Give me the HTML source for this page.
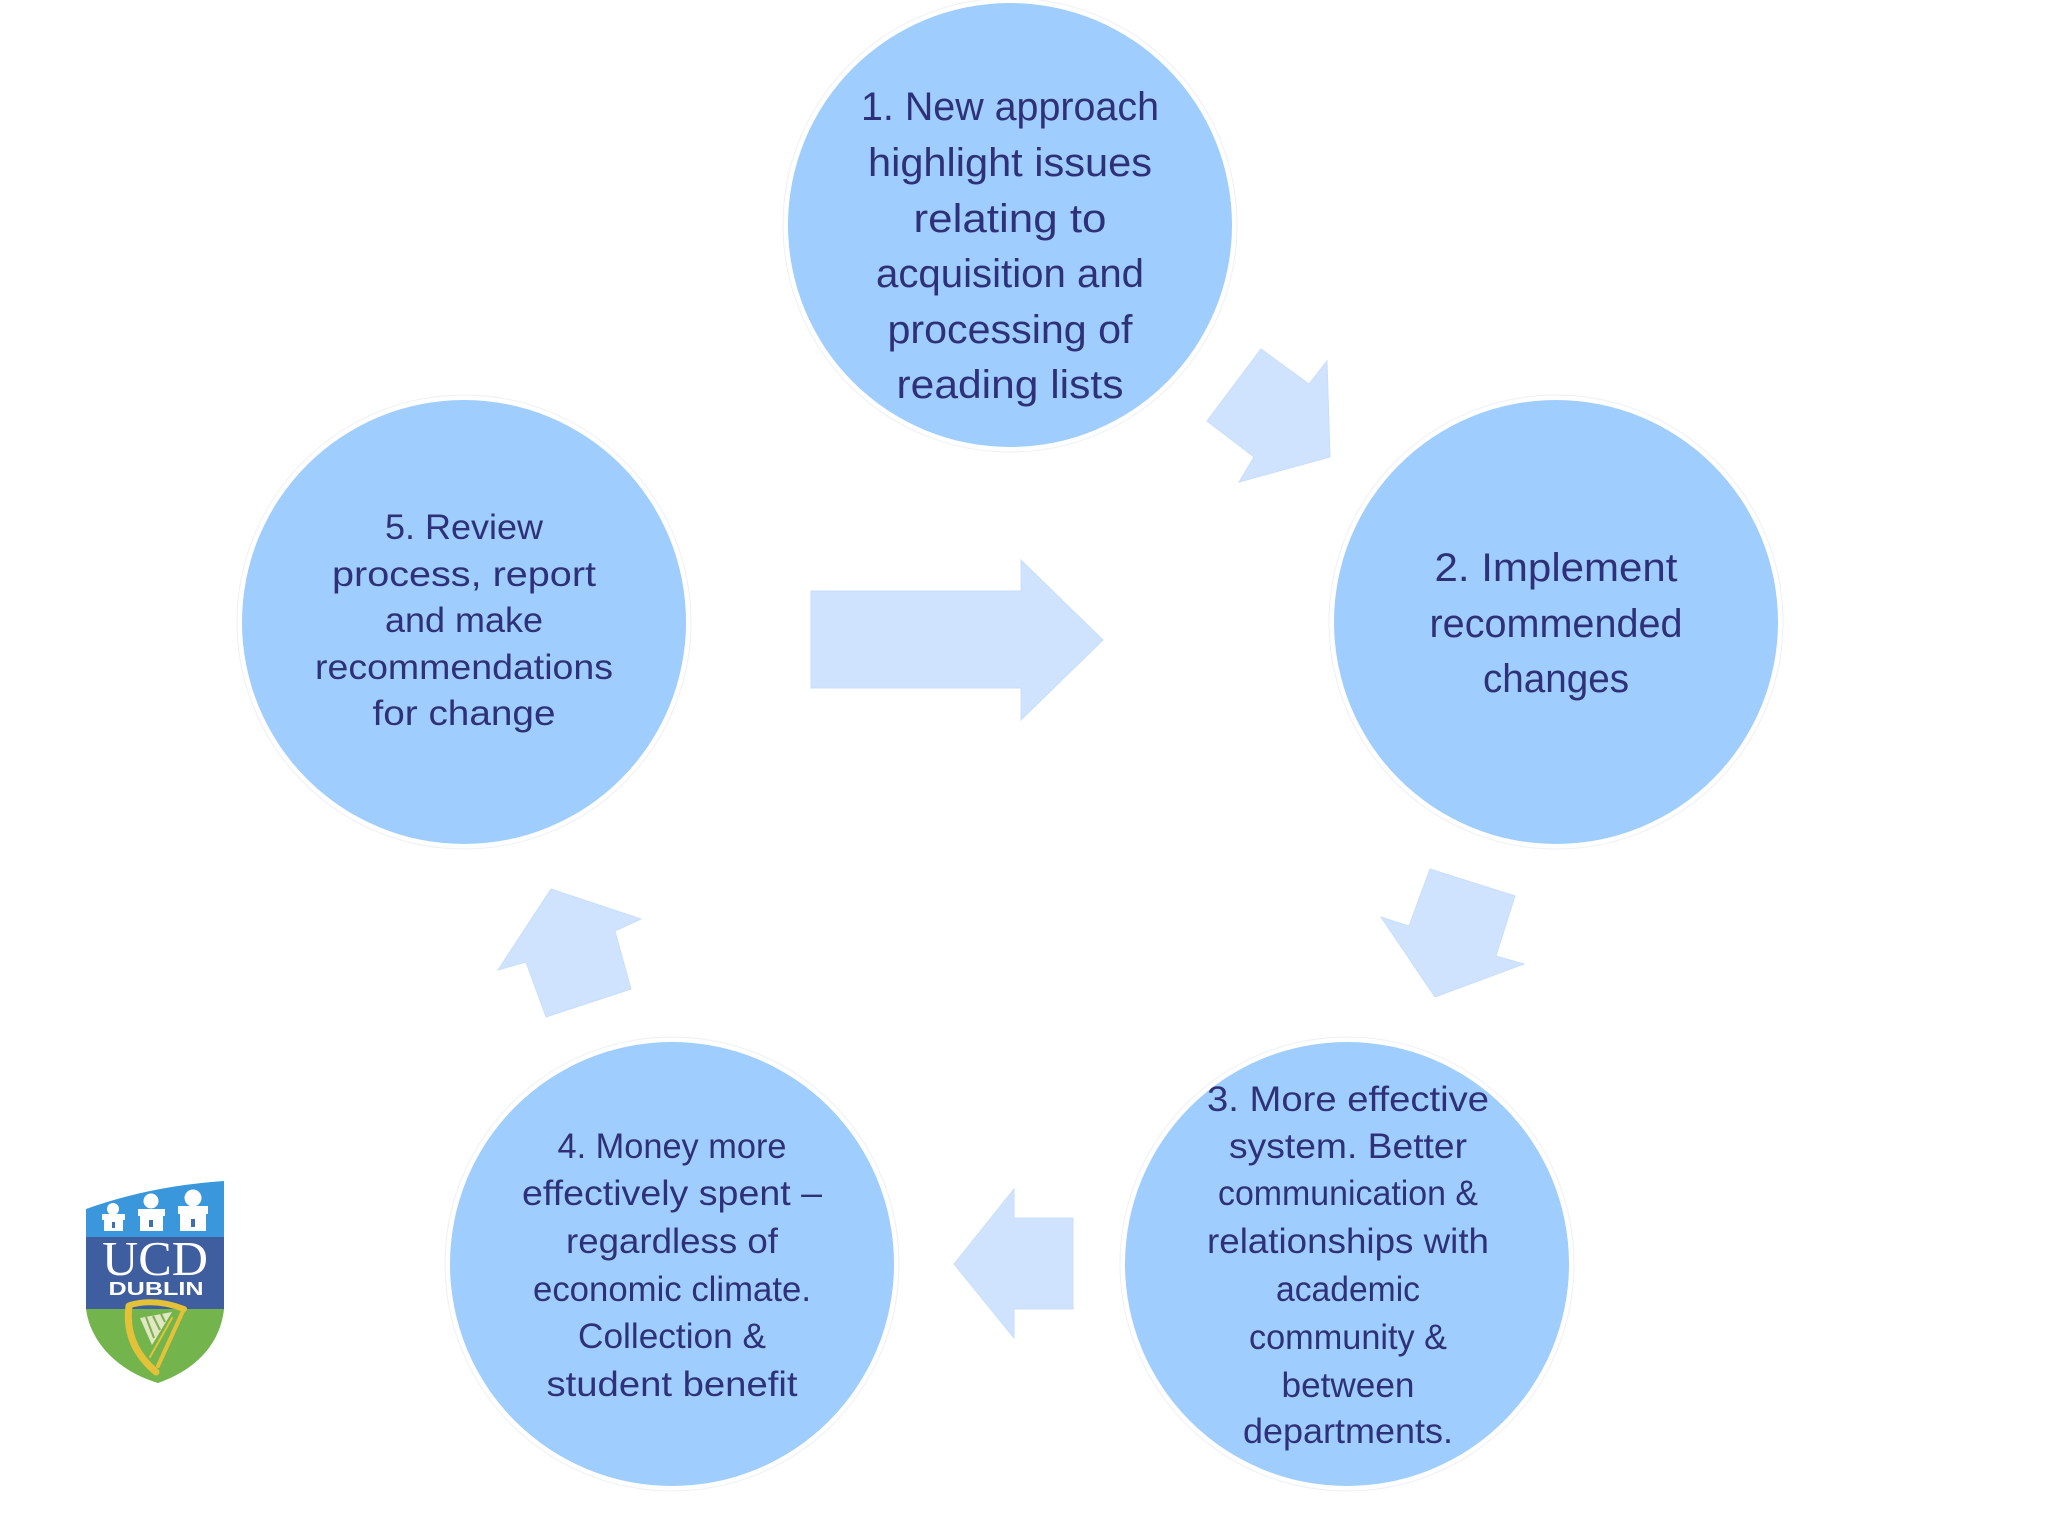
<!DOCTYPE html>
<html><head><meta charset="utf-8"><style>
html,body{margin:0;padding:0;background:#fff;width:2048px;height:1536px;overflow:hidden}
svg{display:block}
.a{font-family:"Liberation Sans",sans-serif;fill:#2f3178;text-anchor:middle;font-size:40px}
.b{font-size:35px}
</style></head><body>
<svg width="2048" height="1536" viewBox="0 0 2048 1536" xmlns="http://www.w3.org/2000/svg">
<rect width="2048" height="1536" fill="#fff"/>
<g fill="#9fcdfd" stroke="none">
<circle cx="1010" cy="225" r="222"/><circle cx="1556" cy="622" r="222"/><circle cx="1347" cy="1264" r="222"/><circle cx="672" cy="1264" r="222"/><circle cx="464" cy="622" r="222"/>
</g>
<g fill="none" stroke="#eef0f3" stroke-width="1">
<circle cx="1010" cy="225" r="227"/><circle cx="1556" cy="622" r="227"/><circle cx="1347" cy="1264" r="227"/><circle cx="672" cy="1264" r="227"/><circle cx="464" cy="622" r="227"/>
</g>
<g fill="#cfe3fe" stroke="#c8defa" stroke-width="1">
<polygon points="1261,349 1309,384 1327,361 1330,457 1239,482 1254,457 1207,421"/>
<polygon points="1430,869 1515,896 1496,956 1524,964 1435,997 1381,917 1409,926"/>
<polygon points="954,1264 1014,1189 1014,1218 1073,1218 1073,1309 1014,1309 1014,1338"/>
<polygon points="551,889 641,919 615,931 631,989 546,1017 526,962 498,970"/>
<polygon points="811,591 1021,591 1021,560 1103,640 1021,720 1021,688 811,688"/>
</g>
<text class="a" x="1010" y="120" textLength="298" lengthAdjust="spacingAndGlyphs">1. New approach</text>
<text class="a" x="1010" y="176" textLength="284" lengthAdjust="spacingAndGlyphs">highlight issues</text>
<text class="a" x="1010" y="232" textLength="193" lengthAdjust="spacingAndGlyphs">relating to</text>
<text class="a" x="1010" y="287" textLength="268" lengthAdjust="spacingAndGlyphs">acquisition and</text>
<text class="a" x="1010" y="343" textLength="245" lengthAdjust="spacingAndGlyphs">processing of</text>
<text class="a" x="1010" y="398" textLength="227" lengthAdjust="spacingAndGlyphs">reading lists</text>
<text class="a" x="1556" y="581" textLength="243" lengthAdjust="spacingAndGlyphs">2. Implement</text>
<text class="a" x="1556" y="637" textLength="253" lengthAdjust="spacingAndGlyphs">recommended</text>
<text class="a" x="1556" y="692" textLength="146" lengthAdjust="spacingAndGlyphs">changes</text>
<text class="a b" x="1348" y="1111" textLength="282" lengthAdjust="spacingAndGlyphs">3. More effective</text>
<text class="a b" x="1348" y="1158" textLength="238" lengthAdjust="spacingAndGlyphs">system. Better</text>
<text class="a b" x="1348" y="1205" textLength="260" lengthAdjust="spacingAndGlyphs">communication &amp;</text>
<text class="a b" x="1348" y="1253" textLength="282" lengthAdjust="spacingAndGlyphs">relationships with</text>
<text class="a b" x="1348" y="1301" textLength="144" lengthAdjust="spacingAndGlyphs">academic</text>
<text class="a b" x="1348" y="1349" textLength="198" lengthAdjust="spacingAndGlyphs">community &amp;</text>
<text class="a b" x="1348" y="1397" textLength="133" lengthAdjust="spacingAndGlyphs">between</text>
<text class="a b" x="1348" y="1443" textLength="210" lengthAdjust="spacingAndGlyphs">departments.</text>
<text class="a b" x="672" y="1158" textLength="229" lengthAdjust="spacingAndGlyphs">4. Money more</text>
<text class="a b" x="672" y="1205" textLength="300" lengthAdjust="spacingAndGlyphs">effectively spent –</text>
<text class="a b" x="672" y="1253" textLength="212" lengthAdjust="spacingAndGlyphs">regardless of</text>
<text class="a b" x="672" y="1301" textLength="278" lengthAdjust="spacingAndGlyphs">economic climate.</text>
<text class="a b" x="672" y="1348" textLength="188" lengthAdjust="spacingAndGlyphs">Collection &amp;</text>
<text class="a b" x="672" y="1396" textLength="251" lengthAdjust="spacingAndGlyphs">student benefit</text>
<text class="a b" x="464" y="539" textLength="158" lengthAdjust="spacingAndGlyphs">5. Review</text>
<text class="a b" x="464" y="586" textLength="264" lengthAdjust="spacingAndGlyphs">process, report</text>
<text class="a b" x="464" y="632" textLength="158" lengthAdjust="spacingAndGlyphs">and make</text>
<text class="a b" x="464" y="679" textLength="298" lengthAdjust="spacingAndGlyphs">recommendations</text>
<text class="a b" x="464" y="725" textLength="183" lengthAdjust="spacingAndGlyphs">for change</text>
<!-- logo -->
<path d="M86,1209 Q150,1186 224,1181 L224,1237 L86,1237 Z" fill="#3b97dc"/>
<rect x="86" y="1237" width="138" height="72" fill="#3f5ea0"/>
<path d="M86,1309 L224,1309 C220,1345 195,1370 158,1383 C115,1370 90,1340 86,1309 Z" fill="#74b44c"/>
<g fill="#fff">
<rect x="104" y="1219" width="19" height="12"/><rect x="102" y="1214" width="23" height="6"/><circle cx="113" cy="1209" r="6"/>
<rect x="140" y="1215" width="23" height="16"/><rect x="138" y="1209" width="27" height="7"/><circle cx="151" cy="1201" r="7.5"/>
<rect x="180" y="1213" width="26" height="18"/><rect x="178" y="1206" width="30" height="8"/><circle cx="193" cy="1198" r="8.5"/>
</g>
<g fill="#3f6fae"><rect x="112" y="1222" width="3" height="6"/><rect x="149" y="1220" width="4" height="7"/><rect x="191" y="1219" width="4" height="8"/></g>
<text x="155" y="1275" text-anchor="middle" font-family="Liberation Serif,serif" font-size="49" fill="#fff" textLength="106" lengthAdjust="spacingAndGlyphs">UCD</text>
<text x="156" y="1295" text-anchor="middle" font-family="Liberation Sans,sans-serif" font-weight="bold" font-size="18" fill="#fff" textLength="95" lengthAdjust="spacingAndGlyphs">DUBLIN</text>
<polygon points="140,1318 172,1312 152,1345" fill="#dfe8c0"/>
<g stroke="#7fae55" stroke-width="2"><line x1="146" y1="1317" x2="154" y2="1338"/><line x1="153" y1="1316" x2="160" y2="1330"/><line x1="161" y1="1314" x2="165" y2="1322"/></g>
<g fill="none" stroke="#e3c23a" stroke-linecap="round">
<path d="M130,1305 Q155,1298 184,1309" stroke-width="6"/>
<path d="M129,1306 Q124,1345 156,1372" stroke-width="7"/>
<path d="M183,1311 L158,1366" stroke-width="4"/>
<path d="M172,1318 L150,1357" stroke-width="2"/>
</g>
</svg>
</body></html>
